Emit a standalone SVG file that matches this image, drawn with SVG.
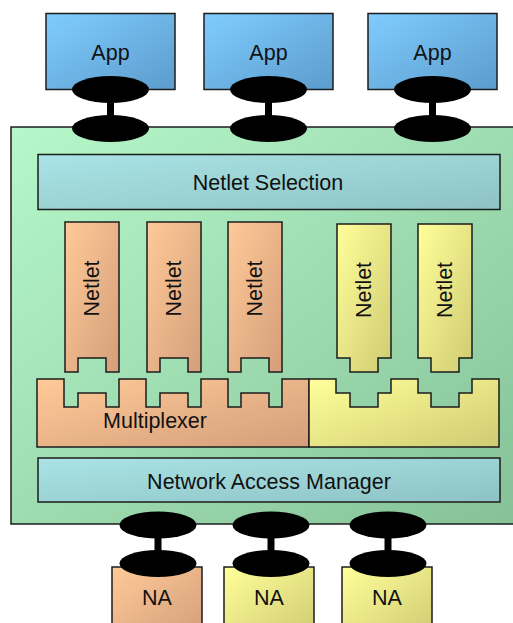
<svg xmlns="http://www.w3.org/2000/svg" width="513" height="623" viewBox="0 0 513 623">
  <defs>
    <linearGradient id="gBlue" x1="0" y1="0" x2="1" y2="1">
      <stop offset="0" stop-color="#80ccff"/>
      <stop offset="1" stop-color="#5b9ccc"/>
    </linearGradient>
    <linearGradient id="gGreen" x1="0" y1="0" x2="1" y2="1">
      <stop offset="0" stop-color="#b6f8ca"/>
      <stop offset="1" stop-color="#86c197"/>
    </linearGradient>
    <linearGradient id="gTeal" x1="0" y1="0" x2="1" y2="1">
      <stop offset="0" stop-color="#aae4e6"/>
      <stop offset="1" stop-color="#8ec2c4"/>
    </linearGradient>
    <linearGradient id="gOrange" x1="0" y1="0" x2="1" y2="1">
      <stop offset="0" stop-color="#ffca98"/>
      <stop offset="1" stop-color="#d49e7a"/>
    </linearGradient>
    <linearGradient id="gYellow" x1="0" y1="0" x2="1" y2="1">
      <stop offset="0" stop-color="#ffff9a"/>
      <stop offset="1" stop-color="#cfcb72"/>
    </linearGradient>
  </defs>
  <style>
    .box { stroke: #1c1c1c; stroke-width: 1.5; }
    .blue { fill: url(#gBlue); }
    .green { fill: url(#gGreen); }
    .teal { fill: url(#gTeal); }
    .orange { fill: url(#gOrange); }
    .yellow { fill: url(#gYellow); }
    .lbl { font-family: "Liberation Sans", Arial, sans-serif; font-size: 21.5px; fill: #111; text-anchor: middle; }
    .plug { fill: #000; }
  </style>

  <!-- applications -->
  <g id="app1"><rect class="box blue" x="46" y="13.5" width="129" height="76"/><text class="lbl" x="110.5" y="60">App</text></g>
  <g id="app2"><rect class="box blue" x="204" y="13.5" width="129" height="76"/><text class="lbl" x="268.5" y="60">App</text></g>
  <g id="app3"><rect class="box blue" x="368" y="13.5" width="129" height="76"/><text class="lbl" x="432.5" y="60">App</text></g>

  <!-- node container -->
  <g id="node"><rect class="box green" x="11" y="127" width="503" height="397"/></g>

  <g id="netlet-selection"><rect class="box teal" x="38" y="154.5" width="462" height="55"/><text class="lbl" x="268" y="190">Netlet Selection</text></g>

  <!-- netlets with notched connector at the bottom -->
  <g id="netlet1">
    <path class="box orange" d="M65,222 H119 V372 H106 V358 H78 V372 H65 Z"/>
    <text class="lbl" transform="translate(98.5,288.5) rotate(-90)">Netlet</text>
  </g>
  <g id="netlet2">
    <path class="box orange" d="M147,222 H201 V372 H188 V358 H160 V372 H147 Z"/>
    <text class="lbl" transform="translate(180.5,288.5) rotate(-90)">Netlet</text>
  </g>
  <g id="netlet3">
    <path class="box orange" d="M228,222 H282 V372 H269 V358 H241 V372 H228 Z"/>
    <text class="lbl" transform="translate(261.5,288.5) rotate(-90)">Netlet</text>
  </g>
  <g id="netlet4">
    <path class="box yellow" d="M337,224 H391 V358 H378 V372 H350 V358 H337 Z"/>
    <text class="lbl" transform="translate(370.5,290) rotate(-90)">Netlet</text>
  </g>
  <g id="netlet5">
    <path class="box yellow" d="M418,224 H472 V358 H459 V372 H431 V358 H418 Z"/>
    <text class="lbl" transform="translate(451.5,290) rotate(-90)">Netlet</text>
  </g>

  <!-- multiplexer halves with slots -->
  <g id="multiplexer">
    <path class="box orange" d="M37,379 H64 V407 H78 V393 H106 V407 H119 V379 H146 V407 H160 V393 H188 V407 H201 V379 H228 V407 H241 V393 H269 V407 H282 V379 H309 V447 H37 Z"/>
    <text class="lbl" x="155" y="428">Multiplexer</text>
  </g>
  <g id="multiplexer-ext">
    <path class="box yellow" d="M309,379 H336 V393 H350 V407 H378 V393 H391 V379 H418 V393 H431 V407 H459 V393 H472 V379 H499 V447 H309 Z"/>
  </g>

  <g id="network-access-manager"><rect class="box teal" x="38" y="458" width="462" height="44"/><text class="lbl" x="269" y="489">Network Access Manager</text></g>

  <!-- network adapters -->
  <g id="na1"><rect class="box orange" x="112" y="567" width="90" height="70"/><text class="lbl" x="157" y="605">NA</text></g>
  <g id="na2"><rect class="box yellow" x="224" y="567" width="90" height="70"/><text class="lbl" x="269" y="605">NA</text></g>
  <g id="na3"><rect class="box yellow" x="342" y="567" width="90" height="70"/><text class="lbl" x="387" y="605">NA</text></g>

  <!-- socket connectors -->
  <g id="connectors">
    <g class="plug">
      <rect x="107" y="89" width="7" height="40"/>
      <ellipse cx="110.5" cy="89.5" rx="38.5" ry="13.5"/>
      <ellipse cx="110.5" cy="128.5" rx="38.5" ry="13.5"/>
      <rect x="265" y="89" width="7" height="40"/>
      <ellipse cx="268.5" cy="89.5" rx="38.5" ry="13.5"/>
      <ellipse cx="268.5" cy="128.5" rx="38.5" ry="13.5"/>
      <rect x="429" y="89" width="7" height="40"/>
      <ellipse cx="432.5" cy="89.5" rx="38.5" ry="13.5"/>
      <ellipse cx="432.5" cy="128.5" rx="38.5" ry="13.5"/>

      <rect x="154.5" y="525" width="7" height="39"/>
      <ellipse cx="158" cy="525" rx="38.5" ry="13.5"/>
      <ellipse cx="158" cy="563.5" rx="38.5" ry="13.5"/>
      <rect x="267.5" y="525" width="7" height="39"/>
      <ellipse cx="271" cy="525" rx="38.5" ry="13.5"/>
      <ellipse cx="271" cy="563.5" rx="38.5" ry="13.5"/>
      <rect x="384.5" y="525" width="7" height="39"/>
      <ellipse cx="388" cy="525" rx="38.5" ry="13.5"/>
      <ellipse cx="388" cy="563.5" rx="38.5" ry="13.5"/>
    </g>
  </g>
</svg>
